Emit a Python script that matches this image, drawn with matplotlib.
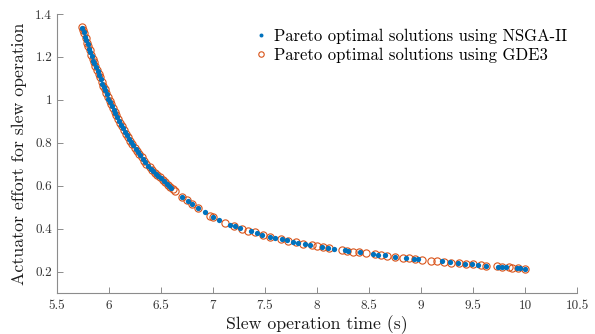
import numpy as np
import matplotlib
matplotlib.use('Agg')
import matplotlib.pyplot as plt
from matplotlib.ticker import FormatStrFormatter

# Pareto front (slew time in s, actuator effort)
nsga_t = [5.745, 5.755, 5.77, 5.78, 5.795, 5.81, 5.82, 5.835, 5.85, 5.86,
          5.875, 5.89, 5.905, 5.92, 5.935, 5.95, 5.965, 5.98, 5.995, 6.01,
          6.03, 6.045, 6.06, 6.08, 6.10, 6.115, 6.135, 6.155, 6.175, 6.195,
          6.215, 6.235, 6.26, 6.28, 6.30, 6.325, 6.35, 6.375, 6.40, 6.425,
          6.45, 6.475, 6.50, 6.53, 6.555, 6.58, 6.60,
          6.70, 6.76, 6.795, 6.86, 6.92, 7.0, 7.06, 7.16, 7.21, 7.26, 7.37,
          7.42, 7.47, 7.55, 7.60, 7.66, 7.71, 7.77, 7.82, 7.885, 7.93, 8.045,
          8.11, 8.16, 8.27, 8.30, 8.41, 8.54, 8.59, 8.65, 8.75, 8.86, 8.93,
          8.97, 9.20, 9.28, 9.36, 9.42, 9.49, 9.55, 9.63, 9.74, 9.775, 9.82,
          9.92, 9.95, 10.0]
nsga_u = [1.333, 1.318, 1.295, 1.28, 1.258, 1.238, 1.225, 1.203, 1.183, 1.17,
          1.151, 1.133, 1.114, 1.095, 1.076, 1.06, 1.044, 1.025, 1.006, 0.99,
          0.97, 0.955, 0.94, 0.92, 0.90, 0.885, 0.868, 0.851, 0.834, 0.817,
          0.802, 0.788, 0.77, 0.755, 0.742, 0.725, 0.709, 0.694, 0.68, 0.667,
          0.655, 0.645, 0.634, 0.621, 0.61, 0.598, 0.590,
          0.549, 0.527, 0.515, 0.494, 0.476, 0.453, 0.439, 0.419, 0.41, 0.403,
          0.387, 0.38, 0.372, 0.362, 0.357, 0.35, 0.345, 0.339, 0.334, 0.328,
          0.324, 0.314, 0.309, 0.306, 0.298, 0.296, 0.289, 0.282, 0.279, 0.275,
          0.269, 0.263, 0.259, 0.257, 0.247, 0.243, 0.239, 0.236, 0.233, 0.231,
          0.228, 0.223, 0.222, 0.220, 0.216, 0.215, 0.213]

gde3_t = [5.74, 5.75, 5.76, 5.775, 5.79, 5.80, 5.815, 5.83, 5.845, 5.855,
          5.87, 5.885, 5.90, 5.91, 5.93, 5.945, 5.96, 5.975, 5.99, 6.005,
          6.02, 6.04, 6.055, 6.07, 6.09, 6.11, 6.125, 6.145, 6.165, 6.185,
          6.205, 6.225, 6.25, 6.27, 6.29, 6.315, 6.34, 6.36, 6.39, 6.415,
          6.44, 6.465, 6.49, 6.515, 6.54, 6.57, 6.59, 6.615,
          6.635, 6.70, 6.75, 6.80, 6.86, 6.97, 7.0, 7.115, 7.2, 7.28, 7.34,
          7.40, 7.48, 7.55, 7.65, 7.72, 7.80, 7.87, 7.95, 8.0, 8.06, 8.12,
          8.24, 8.29, 8.35, 8.40, 8.47, 8.56, 8.62, 8.67, 8.75, 8.83, 8.88,
          8.94, 9.01, 9.10, 9.15, 9.22, 9.29, 9.37, 9.43, 9.50, 9.58, 9.63,
          9.73, 9.78, 9.85, 9.88, 9.93, 10.0]
gde3_u = [1.34, 1.325, 1.31, 1.288, 1.265, 1.25, 1.231, 1.21, 1.19, 1.176,
          1.157, 1.139, 1.12, 1.108, 1.083, 1.065, 1.05, 1.031, 1.012, 0.995,
          0.98, 0.96, 0.945, 0.93, 0.91, 0.89, 0.876, 0.86, 0.842, 0.826,
          0.81, 0.795, 0.777, 0.762, 0.749, 0.732, 0.715, 0.703, 0.686, 0.672,
          0.66, 0.649, 0.639, 0.627, 0.617, 0.603, 0.594, 0.584,
          0.575, 0.549, 0.531, 0.513, 0.494, 0.461, 0.453, 0.427, 0.412, 0.4,
          0.391, 0.383, 0.371, 0.362, 0.351, 0.344, 0.336, 0.329, 0.322, 0.318,
          0.313, 0.309, 0.30, 0.297, 0.293, 0.29, 0.286, 0.28, 0.277, 0.274,
          0.269, 0.264, 0.262, 0.259, 0.255, 0.251, 0.249, 0.246, 0.242, 0.239,
          0.236, 0.233, 0.23, 0.228, 0.224, 0.222, 0.219, 0.218, 0.216, 0.213]

xticks = [5.5, 6, 6.5, 7, 7.5, 8, 8.5, 9, 9.5, 10, 10.5]
yticks = [0.2, 0.4, 0.6, 0.8, 1.0, 1.2, 1.4]

plt.rcParams['font.family'] = 'cmr10'
plt.rcParams['mathtext.fontset'] = 'cm'
plt.rcParams['axes.unicode_minus'] = False

fig = plt.figure(figsize=(5.95, 3.34), dpi=100)
ax = fig.add_axes([0.0958, 0.1228, 0.8739, 0.8352])

ax.plot(gde3_t, gde3_u, 'o', mfc='none', mec='#D95319', ms=5.2, mew=0.8,
        label='Pareto optimal solutions using GDE3', zorder=2)
ax.plot(nsga_t, nsga_u, 'o', color='#0072BD', ms=3.8, mew=0,
        label='Pareto optimal solutions using NSGA-II', zorder=3)

ax.set_xlim(5.5, 10.5)
ax.set_ylim(0.1, 1.4)
ax.set_xticks(xticks)
ax.set_yticks(yticks)
ax.xaxis.set_major_formatter(FormatStrFormatter('%g'))
ax.yaxis.set_major_formatter(FormatStrFormatter('%g'))
ax.tick_params(direction='in', length=4, width=0.7, colors='#8c8c8c',
               labelcolor='#333333', labelsize=9.5)
ax.tick_params(axis='x', pad=5)
for s in ['top', 'right']:
    ax.spines[s].set_visible(False)
for s in ['left', 'bottom']:
    ax.spines[s].set_color('#8c8c8c')
    ax.spines[s].set_linewidth(0.8)

ax.set_xlabel('Slew operation time (s)', fontsize=12.8, color='#1a1a1a', labelpad=2)
ax.set_ylabel('Actuator effort for slew operation', fontsize=12.8, color='#1a1a1a', labelpad=6)

h, l = ax.get_legend_handles_labels()
ax.legend(h[::-1], l[::-1], loc='upper right', frameon=False, fontsize=12,
          handletextpad=0.4, handlelength=0.8, borderaxespad=0.2,
          labelspacing=0.25, markerscale=0.75, bbox_to_anchor=(1.0, 0.985))

fig.savefig('out.png', dpi=100)
